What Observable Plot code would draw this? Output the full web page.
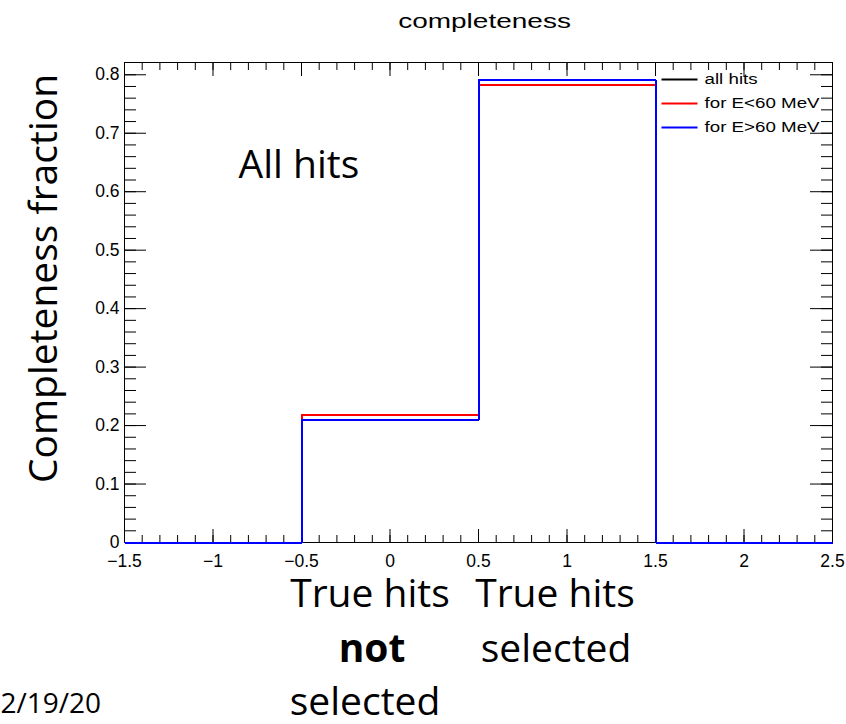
<!DOCTYPE html>
<html>
<head>
<meta charset="utf-8">
<script src="https://cdn.jsdelivr.net/npm/d3@7"></script>
<script src="https://cdn.jsdelivr.net/npm/@observablehq/plot@0.6"></script>
<style>
  html, body { margin: 0; padding: 0; background: #ffffff; }
  #chart svg { display: block; }
</style>
</head>
<body>
<div id="chart"></div>
<script>
// Histogram bin edges and the completeness fraction in each bin
const binEdges = [-1.5, -0.5, 0.5, 1.5, 2.5];
const seriesNames = ["all hits", "for E<60 MeV", "for E>60 MeV"];
const seriesColors = ["#000000", "#ff0000", "#0000ff"];
const allHits = [0, 0.209, 0.791, 0];
const lowEnergy = [0, 0.218, 0.782, 0];
const highEnergy = [0, 0.209, 0.791, 0];

// Axis tick labels
const xTicks = [-1.5, -1, -0.5, 0, 0.5, 1, 1.5, 2, 2.5];
const yTicks = [0, 0.1, 0.2, 0.3, 0.4, 0.5, 0.6, 0.7, 0.8];

// Annotation text under the two populated bins
const binCenters = [0, 1];
const labelLine1 = ["True hits", "True hits"];
const labelLine2 = ["not", "selected"];
const labelLine3 = ["selected", ""];

const titleText = "completeness";
const yTitle = "Completeness fraction";
const panelNote = "All hits";
const dateText = "2/19/20";

// Layout
const W = 846, H = 724;
const M = {top: 62, right: 14, bottom: 182, left: 124};
const frameH = H - M.top - M.bottom;
const frameW = W - M.left - M.right;
const big = "'Open Sans', 'Noto Sans', sans-serif";
const root = "'Liberation Sans', Arial, Helvetica, sans-serif";

// One row per (series, edge); the last bin value is repeated on the closing edge
const histPoints = [];
[allHits, lowEnergy, highEnergy].forEach((vals, s) => {
  binEdges.forEach((edge, i) => {
    histPoints.push({series: seriesNames[s], edge, value: vals[Math.min(i, vals.length - 1)]});
  });
});

const xMinor = d3.range(-15, 26).map(i => i / 10);
const yMinor = d3.range(0, 41).map(i => i / 50);
const fmt = d3.format("");

// Short horizontal stroke used as the legend swatch
const lineSwatch = {draw(ctx) { ctx.moveTo(-18, 0); ctx.lineTo(18, 0); }};

const bigText = (data, text, opts) => Plot.text(data, {
  text, frameAnchor: "bottom", lineAnchor: "bottom", fontSize: 39, fontFamily: big, ...opts
});

const chart = Plot.plot({
  width: W,
  height: H,
  marginTop: M.top,
  marginRight: M.right,
  marginBottom: M.bottom,
  marginLeft: M.left,
  style: {fontFamily: root, fontSize: "17.5px", background: "#ffffff", color: "#000000"},
  x: {domain: [-1.5, 2.5], label: null},
  y: {domain: [0, 0.821], label: null},
  color: {domain: seriesNames, range: seriesColors},
  marks: [
    Plot.frame({stroke: "#000000", strokeWidth: 1}),
    // ticks on all four sides, pointing into the frame
    Plot.ruleX(xMinor, {insetTop: frameH - 7, stroke: "#000"}),
    Plot.ruleX(xMinor, {insetBottom: frameH - 8, stroke: "#000"}),
    Plot.ruleX(xTicks, {insetTop: frameH - 13, stroke: "#000"}),
    Plot.ruleX(xTicks, {insetBottom: frameH - 14, stroke: "#000"}),
    Plot.ruleY(yMinor, {insetRight: frameW - 12, stroke: "#000"}),
    Plot.ruleY(yMinor, {insetLeft: frameW - 11, stroke: "#000"}),
    Plot.ruleY(yTicks, {insetRight: frameW - 22, stroke: "#000"}),
    Plot.ruleY(yTicks, {insetLeft: frameW - 22, stroke: "#000"}),
    Plot.axisX({ticks: xTicks, tickSize: 0, tickPadding: 12, tickFormat: fmt, label: null}),
    Plot.axisY({ticks: yTicks, tickSize: 0, tickPadding: 5, tickFormat: fmt, label: null}),
    // step histograms, drawn over the frame
    Plot.line(histPoints, {
      x: "edge", y: "value", stroke: "series", curve: "step-after",
      strokeWidth: 2, shapeRendering: "crispEdges"
    }),
    // legend
    ...seriesNames.map((name, i) => Plot.dot([name], {
      frameAnchor: "top-right", dx: -153, dy: 17 + 24 * i,
      symbol: lineSwatch, stroke: seriesColors[i], fill: "none", strokeWidth: 2
    })),
    ...seriesNames.map((name, i) => Plot.text([name], {
      frameAnchor: "top-right", dx: -128, dy: 17 + 24 * i, text: d => d,
      textAnchor: "start", lineAnchor: "middle", fontSize: 15, fontFamily: root,
      ariaLabel: () => "legend-label"
    })),
    // title
    Plot.text([titleText], {
      frameAnchor: "top", dx: 6, dy: -35, text: d => d, lineAnchor: "bottom",
      fontSize: 20, fontFamily: root, ariaLabel: () => "plot-title"
    }),
    // y-axis title
    Plot.text([yTitle], {
      frameAnchor: "left", dx: -80, dy: -24, rotate: -90, text: d => d,
      textAnchor: "middle", lineAnchor: "middle", fontSize: 39, fontFamily: big
    }),
    // note inside the frame
    Plot.text([panelNote], {
      frameAnchor: "top-left", dx: 114, dy: 115, text: d => d, textAnchor: "start",
      lineAnchor: "bottom", fontSize: 39, fontFamily: big
    }),
    // bin descriptions below the axis
    bigText([binCenters[0]], () => labelLine1[0], {x: d => d, dx: -20, dy: 64}),
    bigText([binCenters[1]], () => labelLine1[1], {x: d => d, dx: -12, dy: 64}),
    bigText([binCenters[0]], () => labelLine2[0], {x: d => d, dx: -18, dy: 119, fontWeight: "bold"}),
    bigText([binCenters[1]], () => labelLine2[1], {x: d => d, dx: -11, dy: 119}),
    bigText([binCenters[0]], () => labelLine3[0], {x: d => d, dx: -25, dy: 172}),
    // date stamp
    Plot.text([dateText], {
      frameAnchor: "bottom-left", dx: -M.left, dy: 170, text: d => d, textAnchor: "start",
      lineAnchor: "bottom", fontSize: 28, fontFamily: big
    })
  ]
});

// ROOT-style text is rendered wide; stretch it horizontally about its anchor
function stretch(svg, label, sx) {
  svg.querySelectorAll(`text[aria-label="${label}"]`).forEach(t => {
    t.setAttribute("transform", (t.getAttribute("transform") || "") + ` scale(${sx},1)`);
  });
}
stretch(chart, "plot-title", 1.4);
stretch(chart, "legend-label", 1.25);

document.getElementById("chart").appendChild(chart);
</script>
</body>
</html>
